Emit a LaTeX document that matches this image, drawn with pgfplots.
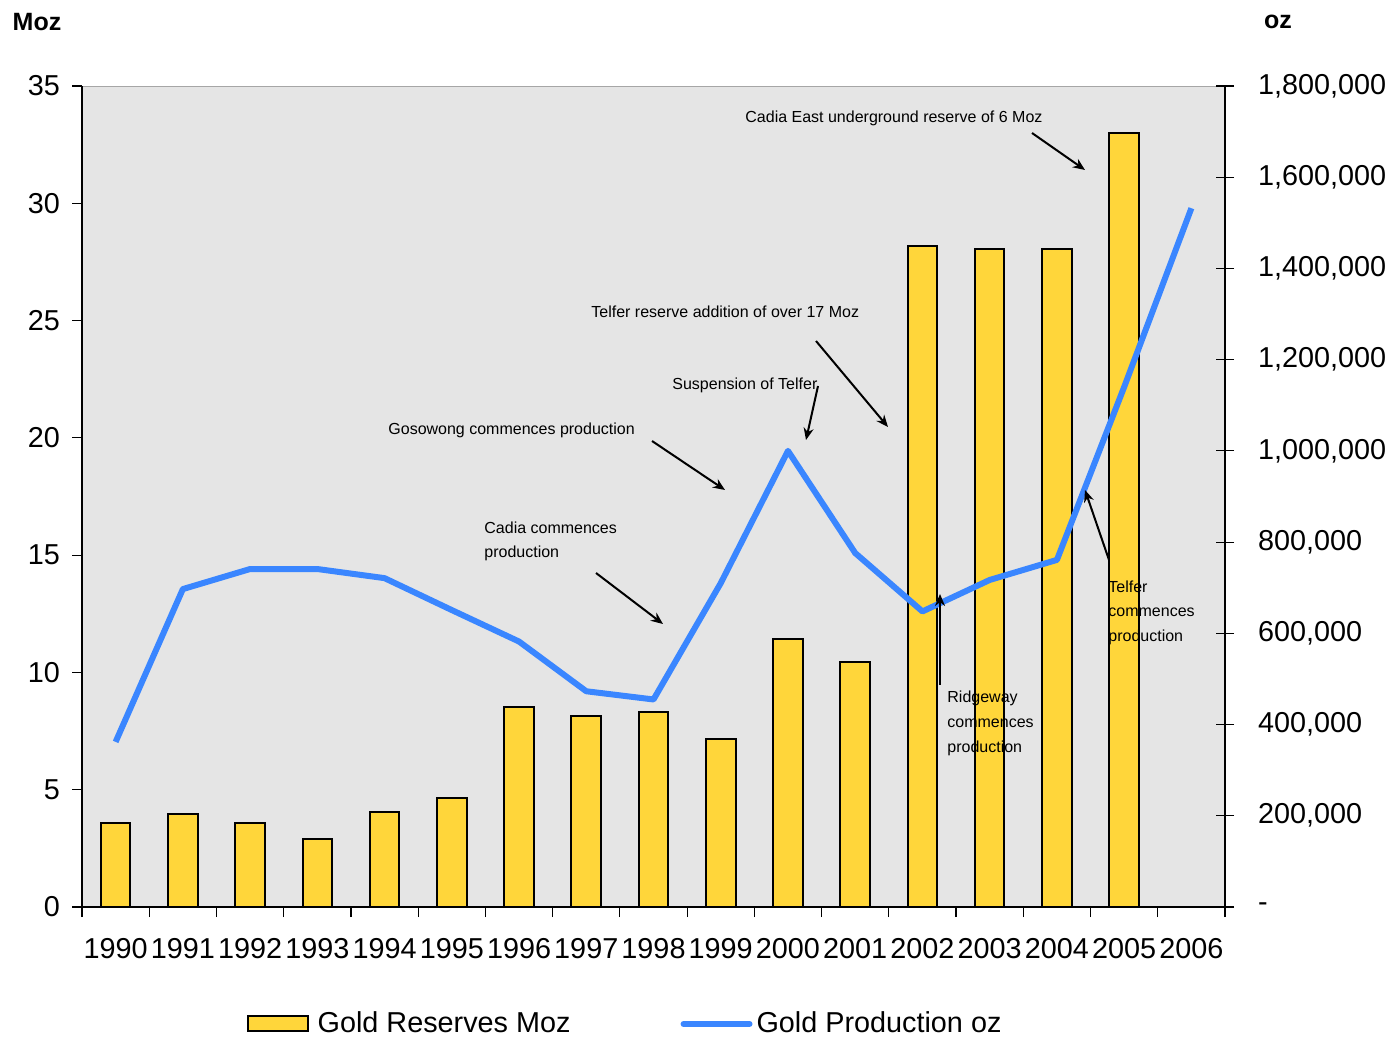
\documentclass[border=0pt]{standalone}
\usepackage{fontspec}
\setmainfont{Liberation Sans}
\usepackage{pgfplots}
\usepackage{pgfplotstable}
\pgfplotsset{compat=1.18}
\usetikzlibrary{arrows.meta}

\definecolor{gold}{RGB}{255,214,58}
\definecolor{prodblue}{RGB}{58,134,255}
\definecolor{plotbg}{RGB}{229,229,229}

% x = 0 is 1990
\pgfplotstableread{
idx reserves
0 3.58
1 3.96
2 3.58
3 2.90
4 4.05
5 4.65
6 8.52
7 8.14
8 8.31
9 7.16
10 11.42
11 10.44
12 28.20
13 28.05
14 28.05
15 32.99
}\reserves

\pgfplotstableread{
idx prod
0 362000
1 697000
2 741000
3 741000
4 721000
5 651000
6 582000
7 473000
8 455000
9 710000
10 1000000
11 776000
12 648000
13 717000
14 761000
15 1140000
16 1532000
}\production

\begin{document}
\begin{tikzpicture}[font=\fontsize{14.4}{17}\selectfont]
\begin{axis}[
  scale only axis, width=571.5pt, height=410.5pt,
  xmin=-0.5, xmax=16.5, ymin=0, ymax=35,
  axis x line*=bottom, axis y line*=left,
  axis line style={black, line width=0.6pt, -},
  axis background/.style={fill=plotbg, draw=gray!70},
  xtick={0,...,16},
  xticklabels={1990,1991,1992,1993,1994,1995,1996,1997,1998,1999,2000,2001,2002,2003,2004,2005,2006},
  xticklabel style={yshift=-7pt},
  yticklabel style={xshift=-2.5pt},
  minor xtick={-0.5,0.5,1.5,2.5,3.5,4.5,5.5,6.5,7.5,8.5,9.5,10.5,11.5,12.5,13.5,14.5,15.5,16.5},
  major x tick style={draw=none},
  minor tick length=5pt,
  major tick length=5pt,
  tick align=outside,
  tick style={black, line width=0.6pt},
  ytick={0,5,...,35},
  /pgf/number format/assume math mode=true,
]
\addplot[ybar, bar width=0.44, fill=gold, draw=black, line width=1pt]
  table[x=idx, y=reserves] {\reserves};
\end{axis}

\begin{axis}[
  scale only axis, width=571.5pt, height=410.5pt,
  xmin=-0.5, xmax=16.5, ymin=0, ymax=1800000,
  axis x line=none, axis y line*=right,
  axis line style={black, line width=0.6pt, -},
  ytick={0,200000,400000,600000,800000,1000000,1200000,1400000,1600000,1800000},
  yticklabels={{-},{200,000},{400,000},{600,000},{800,000},{1,000,000},{1,200,000},{1,400,000},{1,600,000},{1,800,000}},
  yticklabel style={xshift=8.5pt},
  scaled y ticks=false,
  tick align=center, major tick length=9pt,
  tick style={black, line width=0.6pt},
  legend style={draw=none, fill=none, at={(0.476,-0.1425)}, anchor=center,
    legend columns=2, font=\fontsize{14.4}{17}\selectfont,
    /tikz/every even column/.append style={column sep=53pt}},
  legend cell align=left,
]
\addlegendimage{legend image code/.code={%
  \path[draw=none, fill=none] (0pt,0pt) rectangle (33pt,0pt);
  \draw[fill=gold, draw=black, line width=1pt] (0pt,-3.75pt) rectangle (30pt,3.75pt);}}
\addlegendentry{Gold Reserves Moz}
\addplot[prodblue, line width=3pt, line join=round, mark=none,
  legend image code/.code={\draw[prodblue, line width=3pt, line cap=round] (0pt,0pt) -- (33pt,0pt);}]
  table[x=idx, y=prod] {\production};
\addlegendentry{Gold Production oz}
\end{axis}

% axis titles
\node[font=\fontsize{12.5}{15}\selectfont\bfseries] at (-22.5pt,442.5pt) {Moz};
\node[font=\fontsize{12.5}{15}\selectfont\bfseries] at (598pt,442.5pt) {oz};

% annotations
\begin{scope}[font=\fontsize{8}{10}\selectfont,
  ann/.style={-{Stealth[length=6pt,width=5pt]}, line width=1pt}]
\node[anchor=west, inner sep=0pt] at (331.5pt,394.5pt) {Cadia East underground reserve of 6 Moz};
\draw[ann] (475pt,387pt) -- (501.5pt,368.5pt);
\node[anchor=west, inner sep=0pt] at (254.5pt,297.5pt) {Telfer reserve addition of over 17 Moz};
\draw[ann] (367pt,283pt) -- (403pt,240pt);
\node[anchor=west, inner sep=0pt] at (295pt,261pt) {Suspension of Telfer};
\draw[ann] (368pt,260.5pt) -- (362pt,233.5pt);
\node[anchor=west, inner sep=0pt] at (153pt,238.5pt) {Gosowong commences production};
\draw[ann] (285pt,233pt) -- (321.5pt,208.5pt);
\node[anchor=west, inner sep=0pt] at (201pt,189.5pt) {Cadia commences};
\node[anchor=west, inner sep=0pt] at (201pt,177pt) {production};
\draw[ann] (257pt,167pt) -- (290.5pt,141.5pt);
\node[anchor=west, inner sep=0pt] at (432.5pt,104.5pt) {Ridgeway};
\node[anchor=west, inner sep=0pt] at (432.5pt,92pt) {commences};
\node[anchor=west, inner sep=0pt] at (432.5pt,79.5pt) {production};
\draw[ann] (429pt,111pt) -- (429pt,156.5pt);
\node[anchor=west, inner sep=0pt] at (513pt,160pt) {Telfer};
\node[anchor=west, inner sep=0pt] at (513pt,147.5pt) {commences};
\node[anchor=west, inner sep=0pt] at (513pt,135pt) {production};
\draw[ann] (513.5pt,173.5pt) -- (501.5pt,208.5pt);
\end{scope}

\pgfresetboundingbox
\useasboundingbox (-41pt,-65.5pt) rectangle (654.5pt,453.5pt);
\end{tikzpicture}
\end{document}
